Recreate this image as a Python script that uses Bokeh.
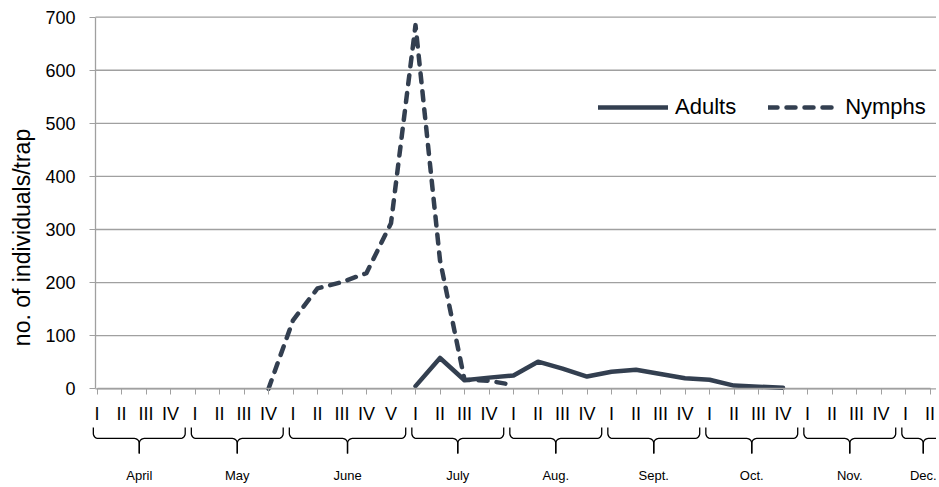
import math
from bokeh.plotting import figure
from bokeh.models import Range1d, FixedTicker, Legend, LegendItem
from bokeh.core.properties import value
from bokeh.embed import file_html
from bokeh.resources import INLINE

NaN = float("nan")

# ---- data -------------------------------------------------------------
months = ["April", "May", "June", "July", "Aug.", "Sept.", "Oct.", "Nov.", "Dec."]
weeks_per_month = [4, 4, 5, 4, 4, 4, 4, 4, 2]
week_labels = ["I", "II", "III", "IV",
               "I", "II", "III", "IV",
               "I", "II", "III", "IV", "V",
               "I", "II", "III", "IV",
               "I", "II", "III", "IV",
               "I", "II", "III", "IV",
               "I", "II", "III", "IV",
               "I", "II", "III", "IV",
               "I", "II"]
adults = [NaN, NaN, NaN, NaN,
          NaN, NaN, NaN, NaN,
          NaN, NaN, NaN, NaN, NaN,
          5, 58, 16, 21,
          25, 51, 38, 23,
          32, 36, 28, 20,
          17, 6, 4, 2,
          NaN, NaN, NaN, NaN,
          NaN, NaN]
nymphs = [NaN, NaN, NaN, NaN,
          NaN, NaN, NaN, 0,
          129, 189, 201, 218, 312,
          685, 242, 17, 15,
          7, NaN, NaN, NaN,
          NaN, NaN, NaN, NaN,
          NaN, NaN, NaN, NaN,
          NaN, NaN, NaN, NaN,
          NaN, NaN]
y_ticks = [0, 100, 200, 300, 400, 500, 600, 700]
y_title = "no. of individuals/trap"

# ---- styling ----------------------------------------------------------
LINE = "#333f50"
GRID = "#a0a0a0"
FONT = "Liberation Sans"

x = list(range(len(week_labels)))
X0, X1 = -3.939, 34.265        # whole canvas is the plotting frame
Y0, Y1 = -182.19, 731.36
AXIS_X = -0.061                # where the value axis sits

p = figure(width=936, height=485,
           x_range=Range1d(X0, X1), y_range=Range1d(Y0, Y1),
           output_backend="svg", toolbar_location=None,
           min_border_left=0, min_border_right=0,
           min_border_top=0, min_border_bottom=0)
p.outline_line_color = None
p.background_fill_color = "white"
p.xgrid.visible = False
p.ygrid.visible = False

# horizontal grid lines, starting at the value axis
p.segment(x0=[AXIS_X] * len(y_ticks), x1=[X1] * len(y_ticks),
          y0=y_ticks, y1=y_ticks, line_color=GRID, line_width=1.3,
          level="underlay")

# y axis
ya = p.yaxis[0]
ya.ticker = FixedTicker(ticks=y_ticks)
ya.fixed_location = AXIS_X
ya.bounds = (0, 700)
ya.axis_line_color = GRID
ya.axis_line_width = 1.3
ya.major_tick_line_color = GRID
ya.major_tick_out = 6
ya.major_tick_in = 0
ya.minor_tick_out = 0
ya.minor_tick_in = 0
ya.major_label_standoff = 14
ya.major_label_text_font = FONT
ya.major_label_text_font_size = "18px"
ya.major_label_text_color = "black"

# x axis (weeks), drawn at y = 0
xa = p.xaxis[0]
xa.ticker = FixedTicker(ticks=x)
xa.major_label_overrides = {i: lab for i, lab in zip(x, week_labels)}
xa.fixed_location = 0
xa.bounds = (0, len(week_labels) - 1)
xa.axis_line_color = GRID
xa.axis_line_width = 1.3
xa.major_tick_line_color = GRID
xa.major_tick_out = 6
xa.major_tick_in = 0
xa.minor_tick_out = 0
xa.minor_tick_in = 0
xa.major_label_standoff = 9
xa.major_label_text_font = FONT
xa.major_label_text_font_size = "18px"
xa.major_label_text_color = "black"

# data lines
ra = p.line(x, adults, line_color=LINE, line_width=4.5,
            line_cap="round", line_join="round")
rn = p.line(x, nymphs, line_color=LINE, line_width=4.5, line_dash="9 9",
            line_cap="round", line_join="round")

legend = Legend(items=[LegendItem(label="Adults", renderers=[ra]),
                       LegendItem(label="Nymphs", renderers=[rn])],
                orientation="horizontal", location=(598, 365),
                glyph_width=70, glyph_height=20, label_standoff=7,
                spacing=32, padding=0, margin=0,
                border_line_color=None, background_fill_alpha=0,
                label_text_font=FONT, label_text_font_size="22px",
                label_text_color="black")
p.add_layout(legend)

# month braces under the week labels
y_top, y_hor, y_tip = -72.9, -93.6, -121.9
rx, ry = 0.2, 9.4
xs, ys, centers = [], [], []
start = 0
for n in weeks_per_month:
    x0 = start - 0.15
    x1 = start + n - 1 + 0.6
    xc = (x0 + x1) / 2
    centers.append(xc)
    px, py = [x0], [y_top]
    for k in range(9):
        t = math.pi + k * (math.pi / 2) / 8
        px.append(x0 + rx + rx * math.cos(t))
        py.append(y_hor + ry + ry * math.sin(t))
    for k in range(9):
        t = math.pi / 2 - k * (math.pi / 2) / 8
        px.append(xc - rx + rx * math.cos(t))
        py.append(y_hor - ry + ry * math.sin(t))
    px.append(xc)
    py.append(y_tip)
    xs.append(px)
    ys.append(py)
    xs.append([2 * xc - v for v in px])
    ys.append(list(py))
    start += n
p.multi_line(xs, ys, line_color="black", line_width=1.3)

p.text(x=centers, y=[-163.3] * len(centers), text=months,
       text_align="center", text_baseline="middle",
       text_font=value(FONT), text_font_size="13px", text_color="black")

# value-axis title
p.text(x=[-3.053], y=[285], text=[y_title], angle=math.pi / 2,
       text_align="center", text_baseline="middle",
       text_font=value(FONT), text_font_size="23px", text_color="black")

open("out.html", "w").write(file_html(p, INLINE))
